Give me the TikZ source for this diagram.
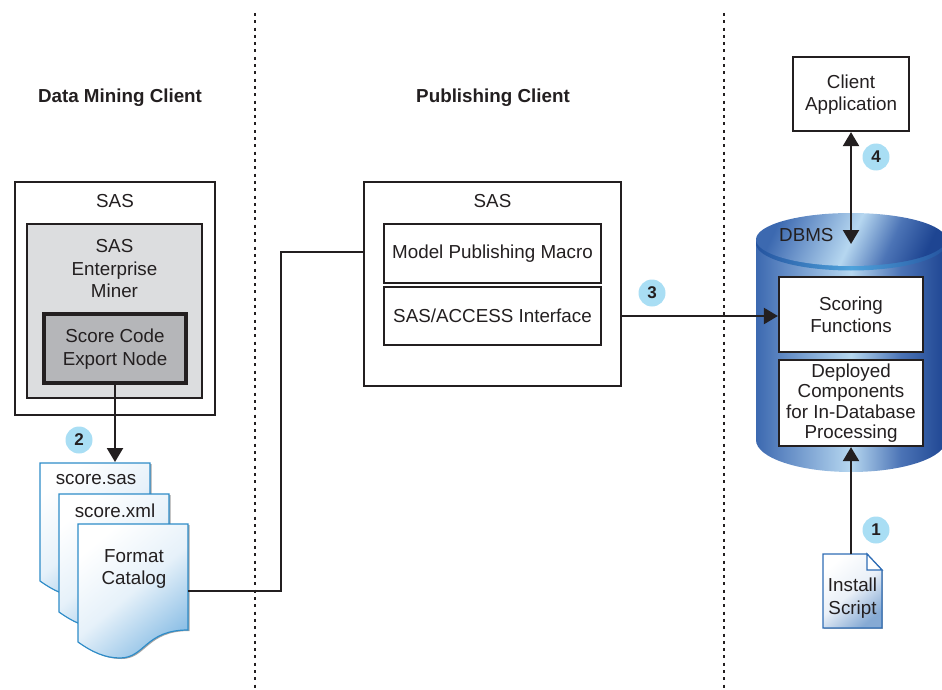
\documentclass[tikz,border=0pt]{standalone}
\usepackage{fontspec}
\setmainfont{Liberation Sans}
\usetikzlibrary{arrows.meta}
\definecolor{ink}{HTML}{231F20}
\definecolor{badge}{HTML}{A9DEF4}
\definecolor{docblue}{HTML}{2E8CC8}
\definecolor{docfill}{HTML}{8EC0E6}
\definecolor{instblue}{HTML}{2F6DB5}
\definecolor{greyA}{HTML}{DCDDDF}
\definecolor{greyB}{HTML}{B5B6B9}
\definecolor{cA}{HTML}{3C69B0}
\definecolor{cB}{HTML}{5F88C3}
\definecolor{cC}{HTML}{B6D7F0}
\definecolor{cD}{HTML}{4C74B6}
\definecolor{cE}{HTML}{1E4592}
\definecolor{rimA}{HTML}{24539F}
\definecolor{rimB}{HTML}{4FA3DC}
\pgfdeclarehorizontalshading{cylbody}{100bp}{color(0bp)=(cA);color(25bp)=(cA);color(32bp)=(cB);color(50bp)=(cC);color(63bp)=(cD);color(75bp)=(cE);color(100bp)=(cE)}
\pgfdeclarehorizontalshading{cylrim}{100bp}{color(0bp)=(rimA);color(25bp)=(rimA);color(50bp)=(rimB);color(75bp)=(rimA);color(100bp)=(rimA)}
\tikzset{
  txt/.style={text=ink,align=center,inner sep=0pt,font=\fontsize{18.8}{22.5}\selectfont},
  head/.style={txt,font=\fontsize{18.8}{22}\selectfont\bfseries},
  boxw/.style={draw=ink,line width=2.2pt,fill=white,txt},
  sep/.style={draw=ink,line width=2.4pt,dash pattern=on 3pt off 4.3pt},
  conn/.style={draw=ink,line width=2.2pt},
  arr/.style={conn,-{Triangle[length=14pt,width=16pt]}},
  darr/.style={conn,{Triangle[length=14pt,width=16pt]}-{Triangle[length=14pt,width=16pt]}},
  num/.style={circle,fill=badge,minimum size=27pt,inner sep=0pt,text=ink,font=\fontsize{17}{17}\selectfont\bfseries},
  docf/.style={draw=docblue,line width=1.2pt,top color=white,bottom color=docfill,middle color=docfill!22,shading angle=40},
}
\newcommand{\pagepath}{(0,0) -- (110,0) -- (110,106) .. controls (67,106) and (67,134) .. (42,134) .. controls (27,134) and (14,128) .. (0,118) -- cycle}
\begin{document}
\begin{tikzpicture}[x=1pt,y=-1pt]
\useasboundingbox (0,0) rectangle (942,690);
% separators
\coordinate (sepAtop) at (255,13); \coordinate (sepAbot) at (255,690);
\coordinate (sepBtop) at (724,13); \coordinate (sepBbot) at (724,690);
\draw[sep] (sepAtop) -- (sepAbot);
\draw[sep] (sepBtop) -- (sepBbot);
% headings
\node[head] (hMining) at (120,97.5) {Data Mining Client};
\node[head] (hPub) at (493,97.5) {Publishing Client};
% left SAS
\node[boxw,minimum width=200pt,minimum height=233pt] (sasL) at (115,298.5) {};
\node[txt] (sasLt) at (115,201.5) {SAS};
\node[draw=ink,line width=2.2pt,fill=greyA,minimum width=175pt,minimum height=174pt] (em) at (114.5,311) {};
\node[txt] (emt) at (114.5,269) {SAS\\Enterprise\\Miner};
\node[draw=ink,line width=3.8pt,fill=greyB,minimum width=142.7pt,minimum height=69.5pt] (score) at (115,348.5) {};
\node[txt] (scoret) at (115,349) {Score Code\\Export Node};
% documents
\coordinate (docTop) at (115,462);
\coordinate (catEdge) at (188,591);
\begin{scope}[shift={(41.5,464)}]\fill[gray!70] \pagepath;\end{scope}
\begin{scope}[shift={(40,463)}]\shade[docf] \pagepath;\end{scope}
\begin{scope}[shift={(60.5,495)}]\fill[gray!70] \pagepath;\end{scope}
\begin{scope}[shift={(59,494)}]\shade[docf] \pagepath;\end{scope}
\begin{scope}[shift={(79.5,525)}]\fill[gray!70] \pagepath;\end{scope}
\begin{scope}[shift={(78,524)}]\shade[docf] \pagepath;\end{scope}
\node[txt] (dSas) at (96,480) {score.sas};
\node[txt] (dXml) at (115,511) {score.xml};
\node[txt] (dCat) at (134,569) {Format\\Catalog};
% middle SAS
\node[boxw,minimum width=257pt,minimum height=204pt] (sasM) at (492.5,284) {};
\node[txt] (sasMt) at (492.5,201.5) {SAS};
\node[boxw,minimum width=217pt,minimum height=59pt] (macro) at (492.5,253.5) {Model Publishing Macro};
\node[boxw,minimum width=217pt,minimum height=58pt] (access) at (492.5,316) {SAS/ACCESS Interface};
% cylinder
\begin{scope}
\clip (0,0) rectangle (942,690);
\shade[shading=cylbody] (756,240) -- (946,240) -- (946,440) arc[start angle=0,end angle=180,x radius=95,y radius=32] -- cycle;
\shade[shading=cylrim] (851,243.5) ellipse[x radius=95,y radius=27];
\shade[shading=cylbody,shading angle=-25] (851,239.5) ellipse[x radius=95,y radius=26.5];
\end{scope}
\node[txt,anchor=west] (dbms) at (779,235) {DBMS};
\node[boxw,minimum width=144pt,minimum height=75pt] (scoring) at (851,314.5) {};
\node[txt] (scoringt) at (851,315) {Scoring\\Functions};
\node[boxw,minimum width=144pt,minimum height=86pt,font=\fontsize{18.8}{20.5}\selectfont] (deployed) at (851,403) {Deployed\\Components\\for In-Database\\Processing};
% client
\node[boxw,minimum width=116pt,minimum height=74pt] (client) at (851,94) {};
\node[txt] (clientt) at (851,94.5) {Client\\Application};
\coordinate (dbIn) at (851,244);
% install script
\coordinate (instTop) at (851,554);
\fill[gray!60] (824,629) rectangle (883,570);
\shade[draw=instblue,line width=1.2pt,top color=white,bottom color=instblue!58,middle color=instblue!10,shading angle=40] (823,554) -- (867,554) -- (882,570) -- (882,628) -- (823,628) -- cycle;
\draw[draw=instblue,line width=1.2pt,fill=white] (867,554) -- (867,570) -- (882,570) -- cycle;
\node[txt] (inst) at (852.5,598) {Install\\Script};
% connectors
\draw[arr] (score.south) -- (docTop);
\draw[conn] (catEdge) -- (281,591) -- (281,252) -- (sasM.west |- 281,252);
\draw[arr] (access.east -| sasM.east) -- (scoring.west |- access.east);
\draw[darr] (client.south) -- (dbIn);
\draw[arr] (instTop) -- (deployed.south);
% badges
\node[num] (n1) at (876,530) {1};
\node[num] (n2) at (79,440) {2};
\node[num] (n3) at (652,293) {3};
\node[num] (n4) at (876,157) {4};
\end{tikzpicture}
\end{document}
